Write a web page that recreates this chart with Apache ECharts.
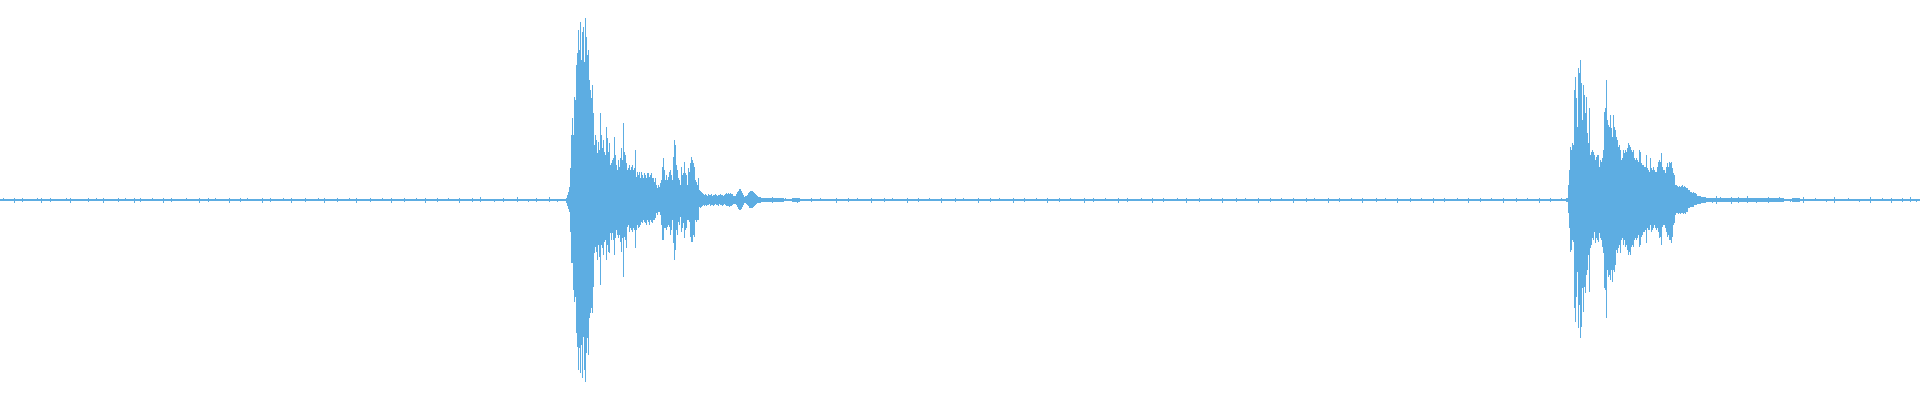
<!DOCTYPE html>
<html>
<head>
<meta charset="utf-8">
<script src="https://cdn.jsdelivr.net/npm/echarts/dist/echarts.min.js"></script>
<style>
html,body{margin:0;padding:0;background:#fff;}
#chart{width:1920px;height:400px;}
</style>
</head>
<body>
<div id="chart"></div>
<script>
// Time axis spans 0..1920 bins; amplitudes in display units (full scale ±200)
const timeMax = 1920;
const ampMax = 200;

// Background noise floor, one value per 8-bin block
const noiseStep = 8;
const noiseAmp = [
  1,1,1,1,1,1,1,1,1,1,1,1,1,1,1,1,1,1,1,1,
  1,1,1,1,1,1,1,1,1,1,1,1,1,1,1,1,1,1,1,1,
  1,1,1,1,1,1,1,1,1,1,1,1,1,1,1,1,1,1,1,1,
  1,1,1,1,1,1,1,1,1,1,1,1,1,1,1,1,1,1,1,1,
  1,1,1,1,1,1,1,1,1,1,1,1,1,1,1,2,2,2,1,2,
  1,1,1,1,1,1,1,1,1,1,1,1,1,1,1,1,1,1,1,1,
  1,1,1,1,1,1,1,1,1,1,1,1,1,1,1,1,1,1,1,1,
  1,1,1,1,1,1,1,1,1,1,1,1,1,1,1,1,1,1,1,1,
  1,1,1,1,1,1,1,1,1,1,1,1,1,1,1,1,1,1,1,1,
  1,1,1,1,1,1,1,1,1,1,1,1,1,1,1,1,1,1,1,1,
  1,1,1,1,1,1,1,1,1,1,1,1,1,2,2,2,2,2,2,2,
  2,2,2,1,2,1,1,1,1,1,1,1,1,1,1,1,1,1,1,1
];
// Isolated noise ticks: [time, amplitude]
const noiseTicks = [
  [3,2],[14,3],[22,2],[37,2],[41,3],[50,2],[66,2],[70,3],[88,2],[96,2],
  [103,3],[118,2],[125,2],[134,3],[140,2],[152,2],[163,3],[171,2],[186,2],[199,3],
  [208,2],[215,2],[229,3],[240,2],[247,2],[262,3],[270,2],[283,2],[291,3],[305,2],
  [318,2],[324,3],[337,2],[349,2],[356,3],[370,2],[382,2],[391,3],[404,2],[416,2],
  [425,3],[437,2],[448,2],[459,3],[472,2],[480,3],[494,2],[503,2],[517,3],[528,2],
  [536,2],[549,3],[557,2],
  [772,3],[785,2],[797,3],[811,2],[820,2],[836,3],[848,2],[857,2],[871,3],[884,2],
  [892,2],[907,3],[918,2],[929,2],[941,3],[955,2],[963,2],[978,3],[990,2],[999,2],
  [1013,3],[1024,2],[1036,2],[1047,3],[1059,2],[1070,2],[1084,3],[1093,2],[1105,2],[1118,3],
  [1127,2],[1141,2],[1152,3],[1163,2],[1177,2],[1186,3],[1199,2],[1211,2],[1222,3],[1236,2],
  [1245,2],[1258,3],[1270,2],[1281,2],[1293,3],[1306,2],[1314,2],[1328,3],[1339,2],[1351,2],
  [1362,3],[1376,2],[1385,2],[1397,3],[1410,2],[1421,2],[1433,3],[1444,2],[1457,2],[1468,3],
  [1480,2],[1491,2],[1503,3],[1516,2],[1527,2],[1539,3],[1550,2],[1561,2],
  [1712,3],[1716,4],[1720,3],[1731,4],[1738,3],[1747,4],[1756,3],[1768,3],[1779,3],[1790,2],
  [1803,3],[1815,2],[1826,2],[1834,3],[1848,2],[1859,2],[1870,3],[1882,2],[1891,3],[1902,2],
  [1910,3],[1916,2]
];

// First event: per-bin peak (up) and trough (down, magnitude)
const burst1Start = 566;
const burst1Hi = [
  2,5,8,13,32,65,82,65,103,100,
  135,147,170,150,178,140,168,173,138,182,
  163,145,150,120,110,102,115,87,55,65,
  60,47,58,50,87,65,52,60,48,45,
  73,62,48,57,35,37,40,42,63,45,
  35,30,40,33,42,52,40,77,48,45,
  37,30,32,35,30,33,35,30,32,50,
  23,28,25,28,22,28,25,22,27,25,
  22,27,27,23,25,27,22,22,18,22,
  15,12,15,13,17,20,33,42,30,20,
  25,20,23,28,30,25,20,43,60,55,
  35,30,22,20,15,33,25,27,38,27,
  25,15,32,28,37,43,40,37,33,20,
  18,15,22,10,9,8,7,6,5,6,
  5,4,6,5,5,6,4,5,5,6,
  5,4,5,5,6,5,5,4,5,6,
  7,6,7,6,7,6,6,4,4,4,
  6,8,9,11,11,9,7,5,3,4,
  4,5,7,8,9,9,9,8,7,6,
  5,4,3,3,3
];
const burst1Lo = [
  3,6,9,12,32,63,63,90,102,97,
  133,147,170,148,173,145,178,137,170,182,
  153,138,155,118,113,108,113,87,53,47,
  52,60,45,57,85,45,48,55,42,40,
  60,45,52,53,33,40,33,40,55,38,
  30,35,38,35,42,52,38,77,37,40,
  48,27,25,32,28,30,32,28,30,48,
  30,25,28,27,25,22,23,20,22,23,
  25,20,22,25,20,22,23,20,20,18,
  13,15,12,12,15,25,40,40,28,28,
  30,27,25,27,35,30,20,43,60,50,
  30,35,22,25,17,32,28,23,38,30,
  28,20,20,22,37,42,42,35,37,20,
  22,20,20,7,8,7,6,5,6,5,
  6,5,5,4,6,5,5,6,5,4,
  5,5,6,4,5,5,6,5,4,5,
  6,6,6,7,6,6,5,4,4,4,
  5,7,9,10,10,9,7,5,3,3,
  4,5,6,8,8,8,8,7,6,5,
  4,3,3,3,3
];

// Second event
const burst2Start = 1566;
const burst2Hi = [
  2,2,15,30,53,50,57,55,110,123,
  102,73,132,127,140,117,80,115,105,87,
  103,67,57,92,45,48,50,48,45,40,
  43,45,45,33,40,38,42,50,88,92,
  120,80,75,73,85,72,63,85,73,70,
  63,60,53,55,50,40,42,50,47,50,
  48,52,57,55,53,50,48,50,42,40,
  42,40,38,50,48,37,35,35,33,33,
  45,32,30,28,42,32,30,33,30,28,
  28,33,38,40,38,47,33,30,30,27,
  33,37,33,38,37,38,32,27,25,15,
  15,14,13,14,13,14,15,13,14,13,
  12,12,10,10,8,8,7,8,7,7,
  6,4,4,4,4,3,3,3,3,3
];
const burst2Lo = [
  2,2,13,28,52,50,40,42,108,122,
  97,72,128,105,138,127,88,112,87,93,
  75,70,55,92,48,45,38,40,32,43,
  38,40,42,33,38,40,47,53,88,90,
  118,70,77,75,80,70,82,70,72,65,
  50,53,48,45,53,40,38,45,40,47,
  45,50,55,52,55,47,45,47,40,38,
  40,38,35,47,45,37,35,32,32,30,
  43,28,30,30,25,32,30,28,25,28,
  30,28,32,38,37,45,27,25,25,28,
  32,37,35,40,40,43,37,25,23,15,
  13,13,14,13,14,13,13,14,13,14,
  12,12,8,8,7,7,7,7,5,5,
  5,4,4,4,4,3,3,3,3,3
];

// Build [t0, t1, low, high] items
const items = [];
noiseAmp.forEach((a, i) => items.push([i * noiseStep, (i + 1) * noiseStep, -a, a]));
noiseTicks.forEach(([t, a], i) => items.push([t, t + 1, -(i % 3 === 0 ? a - 1 : a), (i % 3 === 1 ? a - 1 : a)]));
burst1Hi.forEach((h, i) => items.push([burst1Start + i, burst1Start + i + 1, -burst1Lo[i], h]));
burst2Hi.forEach((h, i) => items.push([burst2Start + i, burst2Start + i + 1, -burst2Lo[i], h]));

const chart = echarts.init(document.getElementById('chart'), null, {renderer: 'canvas'});
chart.setOption({
  animation: false,
  backgroundColor: '#ffffff',
  grid: {left: 0, right: 0, top: 0, bottom: 0},
  xAxis: {type: 'value', min: 0, max: timeMax, show: false},
  yAxis: {type: 'value', min: -ampMax, max: ampMax, show: false},
  series: [{
    type: 'custom',
    data: items,
    encode: {x: [0, 1], y: [2, 3]},
    renderItem: function (params, api) {
      const p0 = api.coord([api.value(0), api.value(3)]);
      const p1 = api.coord([api.value(1), api.value(2)]);
      return {
        type: 'rect',
        shape: {x: p0[0], y: p0[1], width: p1[0] - p0[0], height: p1[1] - p0[1]},
        style: {fill: '#5dade2'}
      };
    }
  }]
});
</script>
</body>
</html>
